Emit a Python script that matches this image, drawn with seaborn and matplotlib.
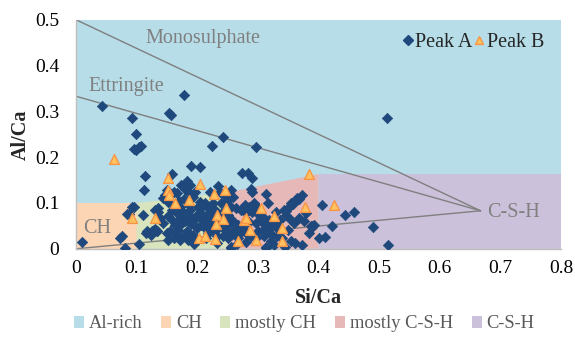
import matplotlib
matplotlib.use("Agg")
import matplotlib.pyplot as plt
from matplotlib.patches import Patch
from matplotlib.lines import Line2D
import seaborn as sns
import pandas as pd

sns.set_theme(style="white")
plt.rcParams['font.family'] = ['Liberation Serif', 'DejaVu Serif']

# ---------------- data ----------------
peak_a_x = [0.043, 0.093, 0.099, 0.095, 0.099, 0.104, 0.107, 0.178, 0.153, 0.157,
            0.243, 0.224, 0.297, 0.513, 0.010, 0.081, 0.073, 0.076, 0.084, 0.092,
            0.104, 0.113, 0.114, 0.111, 0.116, 0.128, 0.131, 0.131, 0.135, 0.159,
            0.190, 0.204, 0.273, 0.283, 0.291, 0.289, 0.290, 0.314, 0.317, 0.367,
            0.358, 0.405, 0.443, 0.459, 0.422, 0.390, 0.400, 0.411, 0.490, 0.515,
            0.373, 0.345, 0.314, 0.255,
            0.173, 0.183, 0.188, 0.180, 0.185, 0.196, 0.193, 0.166, 0.161, 0.150,
            0.147, 0.221, 0.234, 0.237, 0.144, 0.152, 0.204, 0.212, 0.201, 0.218,
            0.226, 0.240, 0.248, 0.136, 0.095, 0.087,
            0.158, 0.166, 0.172, 0.177, 0.183, 0.188, 0.174, 0.180, 0.191, 0.199,
            0.207, 0.215, 0.223, 0.229, 0.237, 0.245, 0.250,
            0.133, 0.125, 0.123, 0.150, 0.155, 0.152, 0.161, 0.166, 0.172, 0.177,
            0.183, 0.185, 0.193, 0.199, 0.207, 0.212, 0.221, 0.226, 0.234, 0.242,
            0.248, 0.199, 0.215, 0.232, 0.242,
            0.204, 0.212, 0.221, 0.232, 0.240, 0.158, 0.163, 0.172, 0.169, 0.139,
            0.144, 0.152, 0.118, 0.133,
            0.256, 0.259, 0.250, 0.278, 0.286, 0.294, 0.300, 0.291, 0.281, 0.272,
            0.264, 0.256,
            0.302, 0.310, 0.319, 0.305, 0.297, 0.313, 0.321, 0.330, 0.332, 0.308,
            0.300, 0.316, 0.324, 0.332, 0.340, 0.310, 0.297, 0.288,
            0.343, 0.351, 0.359, 0.365, 0.373, 0.379, 0.368, 0.359, 0.354, 0.346,
            0.376, 0.387, 0.384, 0.392, 0.354, 0.362, 0.321, 0.327, 0.313, 0.256,
            0.267, 0.275, 0.261, 0.270, 0.278, 0.283, 0.256, 0.250, 0.267,
            0.248, 0.253, 0.259, 0.250, 0.389, 0.346, 0.354, 0.365,
            0.168, 0.178, 0.195, 0.210, 0.226, 0.186, 0.205, 0.285, 0.303, 0.337,
            0.349, 0.218, 0.232, 0.190, 0.160, 0.170, 0.195, 0.265, 0.280, 0.330]
peak_a_y = [0.312, 0.286, 0.250, 0.217, 0.215, 0.223, 0.225, 0.336, 0.297, 0.292,
            0.245, 0.225, 0.222, 0.286, 0.015, 0.002, 0.024, 0.028, 0.077, 0.091,
            0.011, 0.128, 0.158, 0.073, 0.035, 0.040, 0.044, 0.085, 0.088, 0.164,
            0.181, 0.179, 0.166, 0.166, 0.155, 0.131, 0.124, 0.120, 0.099, 0.108,
            0.097, 0.095, 0.073, 0.080, 0.050, 0.047, 0.024, 0.026, 0.047, 0.009,
            0.009, 0.004, 0.004, 0.004,
            0.140, 0.147, 0.140, 0.130, 0.125, 0.125, 0.114, 0.122, 0.125, 0.129,
            0.118, 0.125, 0.136, 0.125, 0.111, 0.103, 0.103, 0.100, 0.092, 0.089,
            0.100, 0.100, 0.114, 0.081, 0.092, 0.076,
            0.085, 0.078, 0.092, 0.081, 0.074, 0.085, 0.067, 0.060, 0.067, 0.074,
            0.078, 0.071, 0.078, 0.085, 0.074, 0.085, 0.074,
            0.038, 0.038, 0.031, 0.034, 0.038, 0.020, 0.023, 0.031, 0.020, 0.027,
            0.038, 0.020, 0.031, 0.045, 0.052, 0.045, 0.049, 0.041, 0.045, 0.049,
            0.038, 0.020, 0.023, 0.027, 0.027,
            0.067, 0.060, 0.060, 0.063, 0.060, 0.063, 0.052, 0.052, 0.041, 0.067,
            0.056, 0.071, 0.038, 0.038,
            0.129, 0.114, 0.107, 0.096, 0.092, 0.100, 0.089, 0.081, 0.078, 0.085,
            0.089, 0.092,
            0.074, 0.067, 0.063, 0.060, 0.056, 0.052, 0.049, 0.056, 0.045, 0.041,
            0.038, 0.038, 0.031, 0.027, 0.023, 0.027, 0.023, 0.027,
            0.085, 0.092, 0.103, 0.111, 0.118, 0.078, 0.067, 0.056, 0.063, 0.074,
            0.060, 0.049, 0.034, 0.052, 0.016, 0.012, 0.016, 0.009, 0.001, 0.001,
            0.052, 0.049, 0.041, 0.034, 0.038, 0.031, 0.031, 0.023, 0.023,
            0.074, 0.067, 0.060, 0.052, 0.049, 0.083, 0.100, 0.109,
            0.058, 0.108, 0.062, 0.096, 0.068, 0.095, 0.088, 0.058, 0.080, 0.062,
            0.040, 0.035, 0.012, 0.055, 0.095, 0.105, 0.010, 0.010, 0.015, 0.080]

peak_b_x = [0.063, 0.093, 0.130, 0.151, 0.152, 0.153, 0.164, 0.187, 0.204, 0.228,
            0.245, 0.247, 0.232, 0.243, 0.231, 0.277, 0.280, 0.287, 0.305, 0.326,
            0.340, 0.377, 0.384, 0.426, 0.203, 0.212, 0.230, 0.268, 0.297, 0.339]
peak_b_y = [0.196, 0.067, 0.067, 0.155, 0.128, 0.117, 0.099, 0.106, 0.142, 0.120,
            0.129, 0.089, 0.074, 0.064, 0.055, 0.062, 0.067, 0.040, 0.090, 0.072,
            0.045, 0.091, 0.163, 0.095, 0.023, 0.029, 0.022, 0.017, 0.020, 0.017]

# phase-region outlines (Si/Ca, Al/Ca)
region_names = ["Al-rich", "CH", "mostly CH", "mostly C-S-H", "C-S-H"]
region_x = [[0, 0.8, 0.8, 0], [0, 0.1, 0.1, 0], [0.1, 0.25, 0.25, 0.1],
            [0.25, 0.4, 0.4, 0.25], [0.4, 0.8, 0.8, 0.4]]
region_y = [[0, 0, 0.5, 0.5], [0, 0, 0.1, 0.1], [0, 0, 0.123, 0.1],
            [0, 0, 0.163, 0.123], [0, 0, 0.163, 0.163]]
region_colors = ["#B7DDE8", "#FCD5B5", "#D7E4BD", "#E6B9B8", "#CCC1DA"]

# tie lines from the phases to C-S-H (Si/Ca 0.667, Al/Ca 0.083)
tie_x = [[0, 0.667], [0, 0.667], [0, 0.667]]
tie_y = [[0.5, 0.083], [0.333, 0.083], [0.0, 0.083]]

phase_labels = ["Monosulphate", "Ettringite", "CH", "C-S-H"]
phase_lx = [0.114, 0.020, 0.012, 0.678]
phase_ly = [0.460, 0.355, 0.044, 0.080]

x_ticks = [0, 0.1, 0.2, 0.3, 0.4, 0.5, 0.6, 0.7, 0.8]
x_ticklabels = ["0", "0.1", "0.2", "0.3", "0.4", "0.5", "0.6", "0.7", "0.8"]
y_ticks = [0, 0.1, 0.2, 0.3, 0.4, 0.5]
y_ticklabels = ["0", "0.1", "0.2", "0.3", "0.4", "0.5"]

FS = 14.5
LFS = 13.3

# ---------------- plot ----------------
fig = plt.figure(figsize=(5.75, 3.58), dpi=100)
ax = fig.add_axes([0.132, 0.305, 0.844, 0.640])

for rx, ry, c in zip(region_x, region_y, region_colors):
    ax.fill(rx, ry, color=c, lw=0, zorder=0)

for tx, ty in zip(tie_x, tie_y):
    ax.plot(tx, ty, color="#7F7F7F", lw=1.0, zorder=1)

for lab, lx, ly in zip(phase_labels, phase_lx, phase_ly):
    ax.text(lx, ly, lab, color="#808080", fontsize=FS, va="center", ha="left", zorder=2)

dfa = pd.DataFrame({"x": peak_a_x, "y": peak_a_y})
dfb = pd.DataFrame({"x": peak_b_x, "y": peak_b_y})
sns.scatterplot(data=dfa, x="x", y="y", marker="D", s=28, color="#1F497D",
                edgecolor="#1F497D", linewidth=0.5, ax=ax, zorder=3)
sns.scatterplot(data=dfb, x="x", y="y", marker="^", s=50, color="#FFC25E",
                edgecolor="#F79646", linewidth=1.0, ax=ax, zorder=4)

ax.set_xlim(0, 0.8)
ax.set_ylim(0, 0.5)
ax.set_xticks(x_ticks)
ax.set_xticklabels(x_ticklabels)
ax.set_yticks(y_ticks)
ax.set_yticklabels(y_ticklabels)
ax.tick_params(axis="x", length=0, labelsize=14, colors="black", pad=8)
ax.tick_params(axis="y", length=0, labelsize=14, colors="black", pad=12)
for s in ["top", "right"]:
    ax.spines[s].set_visible(False)
for s in ["left", "bottom"]:
    ax.spines[s].set_color("#BFBFBF")
    ax.spines[s].set_linewidth(1.0)
ax.set_xlabel("Si/Ca", fontsize=FS, fontweight="bold", labelpad=8)
ax.set_ylabel("Al/Ca", fontsize=FS, fontweight="bold", labelpad=3)

h1 = [Line2D([], [], marker="D", ls="", color="#1F497D", markersize=5),
      Line2D([], [], marker="^", ls="", markerfacecolor="#FFC25E",
             markeredgecolor="#F79646", markersize=6)]
ax.legend(h1, ["Peak A", "Peak B"], loc="upper right", ncol=2, frameon=False,
          fontsize=FS, handletextpad=0.15, columnspacing=0.1, handlelength=0.45,
          bbox_to_anchor=(0.99, 0.995), borderaxespad=0.2)

h2 = [Patch(facecolor=c, edgecolor="none") for c in region_colors]
leg2 = fig.legend(h2, region_names, loc="center", ncol=5, frameon=False,
                  fontsize=LFS, bbox_to_anchor=(0.529, 0.095), handlelength=0.55,
                  handleheight=0.55, handletextpad=0.27, columnspacing=1.0)
for t in leg2.get_texts():
    t.set_color("#595959")

fig.savefig("out.png", dpi=100)
